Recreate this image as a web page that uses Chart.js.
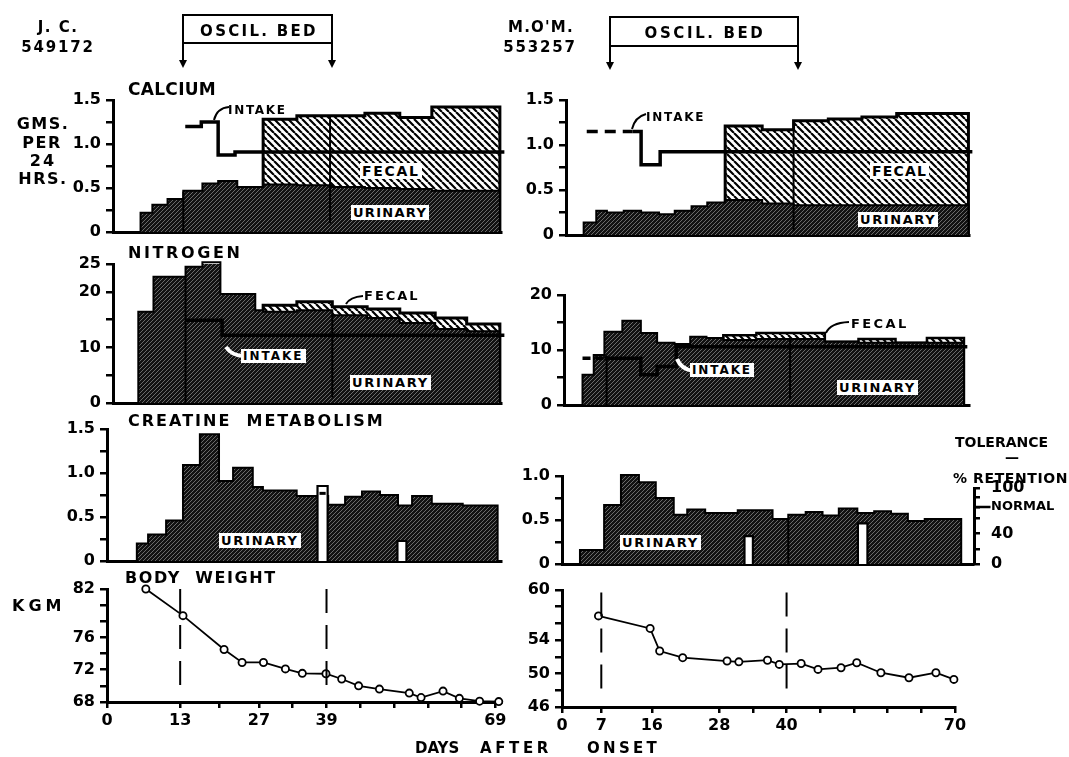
<!DOCTYPE html>
<html><head><meta charset="utf-8">
<script src="https://cdn.jsdelivr.net/npm/chart.js@4.4.1/dist/chart.umd.min.js"></script>
<style>
html,body{margin:0;padding:0;background:#fff;}
#fig{position:relative;width:1069px;height:757px;overflow:hidden;background:#fff;}
#fig canvas{position:absolute;}
.t{position:absolute;font-family:'DejaVu Sans',sans-serif;font-weight:bold;color:#000;line-height:1;white-space:pre;z-index:5;}
.w{background:#fff;padding:1px 2px;}
#ov{position:absolute;left:0;top:0;z-index:4;}
</style></head><body><div id="fig">
<svg id="ov" width="1069" height="757">
 <g stroke="#000" stroke-width="2" fill="none">
  <path d="M183,63 V15 H332 V63 M183,43 H332"/>
  <path d="M610,64 V17 H798 V64 M610,46 H798"/>
  <path d="M214,120 Q217,108 229,107"/>
  <path d="M632,129 Q635,117 646,114"/>
  <path d="M346,304 Q350,297 363,296"/>
  <path d="M826,333 Q830,323 849,322"/>
 </g>
 <g stroke="#fff" stroke-width="4" fill="none">
  <path d="M226,347 Q232,356 244,356"/>
  <path d="M677,359 Q681,369 693,371"/>
 </g>
 <g fill="#000">
  <path d="M179,60 L187,60 L183,68 Z"/><path d="M328,60 L336,60 L332,68 Z"/>
  <path d="M606,62 L614,62 L610,70 Z"/><path d="M794,62 L802,62 L798,70 Z"/>
 </g>
</svg>
</div>
<script>
// ================= DATA =================
// J.C. 549172 (left column)
const jcBedDays = [13, 39];
const jcCaUrinaryStart = [5.9, 8.0, 10.7, 13.5, 16.9, 19.7, 23.1, 27.7, 33.7, 40.0, 45.8, 52.0, 57.7];
const jcCaUrinary      = [0.22, 0.31, 0.375, 0.47, 0.55, 0.58, 0.51, 0.54, 0.53, 0.51, 0.50, 0.49, 0.47];
const jcCaFecalTopStart = [27.7, 33.7, 45.8, 52.0, 57.7];
const jcCaFecalTop      = [1.28, 1.32, 1.35, 1.30, 1.42];
const jcCaIntakeStart  = [13.85, 16.7, 19.7, 22.7];
const jcCaIntake       = [1.20, 1.25, 0.875, 0.91];
const jcCaEnd = 69.8;

const jcNStart       = [5.5, 8.2, 13.9, 16.9, 20.1, 26.3, 27.7, 33.7, 40.0, 46.2, 52.0, 58.3, 63.9];
const jcNUrinary     = [16.4, 22.7, 24.5, 25.3, 19.6, 16.7, 16.4, 16.7, 15.8, 15.3, 14.4, 13.3, 12.9];
const jcNFecalTopStart = [27.7, 33.7, 40.0, 46.2, 52.0, 58.3, 63.9];
const jcNFecalTop      = [17.6, 18.2, 17.3, 16.9, 16.2, 15.3, 14.2];
const jcNIntakeStart = [13.9, 20.4];
const jcNIntake      = [14.9, 12.2];
const jcNEnd = 69.8;

const jcCrStart = [5.3, 7.3, 10.5, 13.5, 16.5, 19.9, 22.4, 25.9, 27.7, 33.7, 39.3, 42.3, 45.3, 48.5, 51.7, 54.2, 57.7, 63.2];
const jcCr      = [0.20, 0.30, 0.46, 1.09, 1.44, 0.91, 1.06, 0.84, 0.80, 0.74, 0.64, 0.73, 0.79, 0.75, 0.63, 0.74, 0.65, 0.63];
const jcCrEnd = 69.4;
const jcTolStart = [37.4, 51.6];
const jcTolEnd   = [39.2, 53.2];
const jcTol      = [98.7, 26.3];
const jcTolMark  = 89;

const jcWtDay = [6.9, 13.5, 20.8, 24.0, 27.8, 31.7, 34.7, 38.9, 41.7, 44.7, 48.4, 53.7, 55.8, 59.7, 62.6, 66.2, 69.6];
const jcWt    = [82.0, 78.7, 74.5, 72.9, 72.9, 72.1, 71.55, 71.5, 70.85, 70.0, 69.6, 69.1, 68.55, 69.35, 68.45, 68.1, 68.05];

// M.O'M. 553257 (right column)
const moBedDays = [7, 40];
const moCaUrinaryStart = [3.75, 6.0, 7.9, 10.9, 14.0, 17.2, 20.0, 23.0, 25.8, 29.0, 35.6, 41.2];
const moCaUrinary      = [0.14, 0.27, 0.25, 0.27, 0.25, 0.23, 0.27, 0.32, 0.36, 0.39, 0.35, 0.33];
const moCaFecalTopStart = [29.0, 35.6, 41.2, 47.4, 53.4, 59.6];
const moCaFecalTop      = [1.21, 1.17, 1.27, 1.29, 1.31, 1.35];
const moCaIntakeEstDays = [4.3, 12.5];
const moCaIntakeEst     = 1.15;
const moCaIntakeStart = [12.5, 14.0, 17.4];
const moCaIntake      = [1.15, 0.78, 0.925];
const moCaEnd = 72.4;

const moNStart   = [3.6, 5.6, 7.5, 10.7, 14.0, 16.9, 20.0, 22.8, 25.7, 28.7, 34.6, 46.8, 52.8, 59.4, 65.0];
const moNUrinary = [5.5, 9.1, 13.3, 15.3, 13.1, 11.3, 11.1, 12.4, 12.2, 11.8, 12.0, 11.5, 11.3, 11.3, 11.3];
const moNFecalTopStart = [28.7, 34.6, 46.8, 52.8, 59.4, 65.0];
const moNFecalTop      = [12.7, 13.1, 11.5, 12.0, 11.3, 12.2];
const moNIntakeEstDays = [3.6, 7.5];
const moNIntakeEst     = 8.5;
const moNIntakeStart = [7.5, 14.0, 16.9, 20.3];
const moNIntake      = [8.5, 5.5, 7.0, 10.6];
const moNEnd = 71.6;

const moCrStart = [3.2, 7.5, 10.5, 13.7, 16.7, 19.9, 22.3, 25.5, 28.5, 31.3, 37.5, 40.3, 43.4, 46.4, 49.3, 52.6, 55.6, 58.6, 61.6, 64.6];
const moCr      = [0.16, 0.67, 1.01, 0.93, 0.75, 0.56, 0.62, 0.58, 0.58, 0.61, 0.51, 0.56, 0.59, 0.55, 0.63, 0.58, 0.60, 0.57, 0.49, 0.51];
const moCrEnd = 71.1;
const moTolStart = [32.5, 52.7];
const moTolEnd   = [34.0, 54.4];
const moTol      = [36.8, 53.5];

const moWtDay = [6.5, 15.7, 17.4, 21.5, 29.4, 31.5, 36.6, 38.7, 42.6, 45.6, 49.7, 52.5, 56.8, 61.8, 66.6, 69.8];
const moWt    = [56.9, 55.4, 52.7, 51.9, 51.5, 51.4, 51.6, 51.1, 51.2, 50.5, 50.7, 51.3, 50.1, 49.5, 50.1, 49.3];

// tick values / labels
const caTicks = [0, 0.25, 0.5, 0.75, 1, 1.25, 1.5];
const caTickLabels = ['0', '', '0.5', '', '1.0', '', '1.5'];
const jcNTicks = [0, 5, 10, 15, 20, 25];
const jcNTickLabels = ['0', '', '10', '', '20', '25'];
const moNTicks = [0, 5, 10, 15, 20];
const moNTickLabels = ['0', '', '10', '', '20'];
const moCrTicks = [0, 0.25, 0.5, 0.75, 1];
const moCrTickLabels = ['0', '', '0.5', '', '1.0'];
const jcWtTicks = [68, 70, 72, 74, 76, 78, 80, 82];
const jcWtTickLabels = ['68', '', '72', '', '76', '', '', '82'];
const moWtTicks = [46, 48, 50, 52, 54, 56, 58, 60];
const moWtTickLabels = ['46', '', '50', '', '54', '', '', '60'];
const jcDayTicks = [0, 13, 20, 27, 33, 39, 45, 51, 57, 63, 69];
const jcDayTickLabels = ['0', '13', '', '27', '', '39', '', '', '', '', '69'];
const moDayTicks = [0, 7, 16, 28, 34, 40, 46, 52, 58, 64, 70];
const moDayTickLabels = ['0', '7', '16', '28', '', '40', '', '', '', '', '70'];
const tolTicks = [0, 20, 40, 60, 75, 87.5, 100];
const tolTickLabels = ['0', '', '40', '', 'NORMAL', '', '100'];

// ================= DRAWING =================
const FONT = "'DejaVu Sans', sans-serif";
const fig = document.getElementById('fig');

function hatch(bg, fg, size, lw, dir) {
  const c = document.createElement('canvas'); c.width = c.height = size;
  const g = c.getContext('2d'); g.fillStyle = bg; g.fillRect(0, 0, size, size);
  g.strokeStyle = fg; g.lineWidth = lw; g.beginPath();
  for (let k = -1; k <= 1; k++) {
    if (dir > 0) { g.moveTo(k * size, size); g.lineTo(k * size + size, 0); }
    else { g.moveTo(k * size, 0); g.lineTo(k * size + size, size); }
  }
  g.stroke();
  return c.getContext('2d').createPattern(c, 'repeat');
}
const URINE = hatch('#121212', '#6a6a6a', 4, 1, 1);
const FECAL = hatch('#ffffff', '#000000', 7, 2.2, -1);

function stepPts(starts, vals, end, from) {
  const p = [{x: from, y: 0}];
  starts.forEach((s, i) => p.push({x: s, y: vals[i]}));
  p.push({x: end, y: vals[vals.length - 1]});
  p.push({x: end, y: 0});
  return p;
}
function linePts(starts, vals, end) {
  const p = starts.map((s, i) => ({x: s, y: vals[i]}));
  p.push({x: end, y: vals[vals.length - 1]});
  return p;
}
function areaDs(data, bg, bw, axis) {
  return {data, stepped: true, fill: 'origin', backgroundColor: bg, borderColor: '#000', borderWidth: bw,
          pointRadius: 0, yAxisID: axis || 'y', clip: false, borderJoinStyle: 'miter'};
}
function lineDs(data, bw, dash, stepped) {
  return {data, stepped: stepped !== false, fill: false, borderColor: '#000', borderWidth: bw, borderDash: dash || [],
          pointRadius: 0, clip: false, borderJoinStyle: 'miter'};
}
function tolBars(starts, ends, vals) {
  return starts.map((s, i) => areaDs(stepPts([s], [vals[i]], ends[i], s), '#fff', 2.2, 'tol'));
}
function weightDs(days, vals) {
  return {data: days.map((d, i) => ({x: d, y: vals[i]})), borderColor: '#000', borderWidth: 1.8, tension: 0,
          pointRadius: 3.6, pointBorderWidth: 1.8, pointBackgroundColor: '#fff', pointBorderColor: '#000',
          fill: false, clip: false};
}

const decor = {
  id: 'decor',
  afterDatasetsDraw(chart, args, opt) {
    const ctx = chart.ctx, xs = chart.scales.x, ys = chart.scales.y;
    (opt.lines || []).forEach(l => {
      ctx.save(); ctx.strokeStyle = '#000'; ctx.lineWidth = l.w || 2; ctx.setLineDash(l.dash || []);
      const px = xs.getPixelForValue(l.day);
      ctx.beginPath(); ctx.moveTo(px, ys.getPixelForValue(l.to)); ctx.lineTo(px, ys.getPixelForValue(l.from));
      ctx.stroke(); ctx.restore();
    });
  },
  afterDraw(chart, args, opt) {
    if (!opt.bracket) return;
    const ctx = chart.ctx, s = chart.scales.tol;
    const x = s.left + 1.5, y0 = s.getPixelForValue(0), y1 = s.getPixelForValue(100), yn = s.getPixelForValue(75);
    ctx.save(); ctx.strokeStyle = '#000'; ctx.lineWidth = 3;
    ctx.beginPath(); ctx.moveTo(x, y1 - 1); ctx.lineTo(x, y0 + 1); ctx.stroke();
    ctx.lineWidth = 2.5; ctx.beginPath(); ctx.moveTo(x, yn); ctx.lineTo(x + 16, yn); ctx.stroke();
    ctx.restore();
  }
};

function panel(o) {
  const YW = 70, PT = 30, PR = 26, RW = o.tolAxis ? 96 : 0, XH = o.xh || 30;
  const cw = YW + (o.right - o.left) + RW + PR;
  const ch = PT + (o.bottom - o.top) + XH;
  const cv = document.createElement('canvas');
  cv.width = cw; cv.height = ch;
  cv.style.left = (o.left - YW) + 'px'; cv.style.top = (o.top - PT) + 'px';
  cv.style.width = cw + 'px'; cv.style.height = ch + 'px';
  fig.insertBefore(cv, document.getElementById('ov'));
  const tf = {family: FONT, weight: 'bold', size: 16};
  const scales = {
    x: {type: 'linear', min: o.xmin, max: o.xmax, position: 'bottom',
      afterFit: s => { s.height = XH; },
      afterBuildTicks: s => { if (o.xticks) s.ticks = o.xticks.map(v => ({value: v})); },
      border: {display: true, color: '#000', width: 3},
      grid: {display: !!o.xticks, drawOnChartArea: false, drawTicks: true, tickLength: 6, color: '#000', lineWidth: 2.5},
      ticks: {display: !!o.xticks, autoSkip: false, maxRotation: 0, color: '#000', font: tf, padding: 3,
              callback: (v, i) => o.xlabels ? o.xlabels[i] : ''}},
    y: {type: 'linear', min: o.ymin, max: o.ymax, position: 'left',
      afterFit: s => { s.width = YW; },
      afterBuildTicks: s => { s.ticks = o.yticks.map(v => ({value: v})); },
      border: {display: true, color: '#000', width: 3},
      grid: {drawOnChartArea: false, drawTicks: true, tickLength: 7, color: '#000', lineWidth: 2.5},
      ticks: {autoSkip: false, color: '#000', font: tf, padding: 5, callback: (v, i) => o.ylabels[i]}}
  };
  if (o.tolMax) {
    scales.tol = {type: 'linear', min: 0, max: o.tolMax, position: 'right', display: !!o.tolAxis,
      afterFit: s => { s.width = RW; },
      afterBuildTicks: s => { s.ticks = tolTicks.map(v => ({value: v})); },
      border: {display: false},
      grid: {drawOnChartArea: false, drawTicks: true, tickLength: 7, color: '#000', lineWidth: 2.5},
      ticks: {autoSkip: false, color: '#000', padding: 11,
              font: c => ({family: FONT, weight: 'bold', size: tolTickLabels[c.index] === 'NORMAL' ? 13 : 16}),
              callback: (v, i) => tolTickLabels[i]}};
  }
  return new Chart(cv, {
    type: 'line',
    data: {datasets: o.datasets},
    options: {responsive: false, animation: false, devicePixelRatio: 1, events: [],
      layout: {padding: {left: 0, top: PT, right: PR, bottom: 0}},
      plugins: {legend: {display: false}, tooltip: {enabled: false}, decor: o.decor || {}},
      scales},
    plugins: [decor]
  });
}

const LX0 = 107, LK = 5.63, RX0 = 562.3, RK = 5.61;
const L = (mn, mx) => ({left: Math.round(LX0 + mn * LK), right: Math.round(LX0 + mx * LK), xmin: mn, xmax: mx});
const R = (mn, mx) => ({left: Math.round(RX0 + mn * RK), right: Math.round(RX0 + mx * RK), xmin: mn, xmax: mx});

// ---- J.C. calcium
panel(Object.assign(L(1, 70), {top: 100, bottom: 232, ymin: 0, ymax: 1.5, yticks: caTicks, ylabels: caTickLabels,
  decor: {lines: [{day: 13.5, from: 0, to: 0.46}, {day: 39.6, from: 0.1, to: 1.31}]},
  datasets: [
    lineDs(linePts(jcCaIntakeStart, jcCaIntake, 70.6), 3.5),
    areaDs(stepPts(jcCaUrinaryStart, jcCaUrinary, jcCaEnd, 1), URINE, 2),
    areaDs(stepPts(jcCaFecalTopStart, jcCaFecalTop, jcCaEnd, jcCaFecalTopStart[0]), FECAL, 3)
  ]}));
// ---- J.C. nitrogen
panel(Object.assign(L(1, 70), {top: 264, bottom: 403, ymin: 0, ymax: 25, yticks: jcNTicks, ylabels: jcNTickLabels,
  decor: {lines: [{day: 13.9, from: 0, to: 22.5}, {day: 40.0, from: 1, to: 15.8}]},
  datasets: [
    lineDs(linePts(jcNIntakeStart, jcNIntake, 70.6), 3.5),
    areaDs(stepPts(jcNStart, jcNUrinary, jcNEnd, 1), URINE, 2),
    areaDs(stepPts(jcNFecalTopStart, jcNFecalTop, jcNEnd, jcNFecalTopStart[0]), FECAL, 3)
  ]}));
// ---- J.C. creatine
panel(Object.assign(L(0, 70), {top: 429, bottom: 561, ymin: 0, ymax: 1.5, yticks: caTicks, ylabels: caTickLabels,
  tolMax: 132 / 0.76, tolAxis: false,
  datasets: [
    Object.assign(lineDs([{x: jcTolStart[0] + 0.35, y: jcTolMark}, {x: jcTolEnd[0] - 0.35, y: jcTolMark}], 3, [], false), {yAxisID: 'tol'}),
    ...tolBars(jcTolStart, jcTolEnd, jcTol),
    areaDs(stepPts(jcCrStart, jcCr, jcCrEnd, 0), URINE, 2)
  ]}));
// ---- J.C. body weight
panel(Object.assign(L(0, 70), {top: 589, bottom: 702, ymin: 68, ymax: 82, yticks: jcWtTicks, ylabels: jcWtTickLabels,
  xticks: jcDayTicks, xlabels: jcDayTickLabels, xh: 34,
  decor: {lines: jcBedDays.map(d => ({day: d, from: 69.1, to: 82, dash: [24, 12]}))},
  datasets: [weightDs(jcWtDay, jcWt)]}));

// ---- M.O'M. calcium
panel(Object.assign(R(0.6, 72.5), {top: 100, bottom: 235, ymin: 0, ymax: 1.5, yticks: caTicks, ylabels: caTickLabels,
  decor: {lines: [{day: 41.2, from: 0.05, to: 1.17}]},
  datasets: [
    lineDs(linePts(moCaIntakeStart, moCaIntake, 73.1), 3.5),
    lineDs(moCaIntakeEstDays.map(d => ({x: d, y: moCaIntakeEst})), 3.5, [11, 7], false),
    areaDs(stepPts(moCaUrinaryStart, moCaUrinary, moCaEnd, 0.6), URINE, 2),
    areaDs(stepPts(moCaFecalTopStart, moCaFecalTop, moCaEnd, moCaFecalTopStart[0]), FECAL, 3)
  ]}));
// ---- M.O'M. nitrogen
panel(Object.assign(R(0.3, 72.5), {top: 295, bottom: 405, ymin: 0, ymax: 20, yticks: moNTicks, ylabels: moNTickLabels,
  decor: {lines: [{day: 7.9, from: 0, to: 9}, {day: 40.6, from: 1, to: 12}]},
  datasets: [
    lineDs(linePts(moNIntakeStart, moNIntake, 72.2), 3.5),
    lineDs(moNIntakeEstDays.map(d => ({x: d, y: moNIntakeEst})), 3.5, [8, 5], false),
    areaDs(stepPts(moNStart, moNUrinary, moNEnd, 0.3), URINE, 2),
    areaDs(stepPts(moNFecalTopStart, moNFecalTop, moNEnd, moNFecalTopStart[0]), FECAL, 2.5)
  ]}));
// ---- M.O'M. creatine (with tolerance axis)
panel(Object.assign(R(0, 73.2), {top: 476, bottom: 564, ymin: 0, ymax: 1.0, yticks: moCrTicks, ylabels: moCrTickLabels,
  tolMax: 88 / 0.76, tolAxis: true,
  decor: {bracket: true, lines: [{day: 40.3, from: 0, to: 0.5}]},
  datasets: [
    ...tolBars(moTolStart, moTolEnd, moTol),
    areaDs(stepPts(moCrStart, moCr, moCrEnd, 0), URINE, 2)
  ]}));
// ---- M.O'M. body weight
panel(Object.assign(R(0, 70), {top: 590, bottom: 707, ymin: 46, ymax: 60, yticks: moWtTicks, ylabels: moWtTickLabels,
  xticks: moDayTicks, xlabels: moDayTickLabels, xh: 34,
  decor: {lines: moBedDays.map(d => ({day: d, from: 47.3, to: 59.7, dash: [24, 12]}))},
  datasets: [weightDs(moWtDay, moWt)]}));

// ================= TEXT =================
function txt(s, x, capTop, size, ls, o) {
  o = o || {};
  const d = document.createElement('div');
  d.className = 't' + (o.bg ? ' w' : '');
  d.textContent = s;
  d.style.fontSize = size + 'px';
  d.style.letterSpacing = ls + 'px';
  let top = capTop - 0.117 * size, left = x;
  if (o.bg) { top -= 1; left -= 2; }
  if (o.center) { d.style.left = (x - 100) + 'px'; d.style.width = '200px'; d.style.textAlign = 'center'; }
  else d.style.left = left + 'px';
  d.style.top = top + 'px';
  fig.appendChild(d);
}
txt('J. C.', 58, 22, 15, 1.5, {center: true});
txt('549172', 58, 42, 15, 1.8, {center: true});
txt("M.O'M.", 541, 22, 15, 1.2, {center: true});
txt('553257', 540, 42, 15, 1.8, {center: true});
txt('OSCIL. BED', 259, 26, 15, 2.3, {center: true});
txt('OSCIL. BED', 705, 28, 15, 2.6, {center: true});
txt('CALCIUM', 128, 83, 17, 0.3);
txt('NITROGEN', 128, 247, 16, 2.6);
txt('CREATINE  METABOLISM', 128, 415, 16, 2.0);
txt('BODY  WEIGHT', 125, 572, 16, 1.6);
txt('GMS.', 43, 118, 16, 1.5, {center: true});
txt('PER', 42, 137, 16, 1.5, {center: true});
txt('24', 43, 155, 16, 2, {center: true});
txt('HRS.', 43, 173, 16, 1.5, {center: true});
txt('KGM', 12, 600, 16, 4);
txt('DAYS', 415, 743, 15, 0);
txt('AFTER', 480, 743, 15, 3.6);
txt('ONSET', 587, 743, 15, 3.3);
txt('TOLERANCE', 955, 437, 14, 0);
txt('—', 1005, 452, 14, 0);
txt('% RETENTION', 953, 473, 14, 0.6);
// in-panel labels
txt('INTAKE', 228, 105, 12, 1.7);
txt('FECAL', 362, 166, 14, 1.7, {bg: true});
txt('URINARY', 353, 208, 13, 1.3, {bg: true});
txt('INTAKE', 646, 112, 12, 1.8);
txt('FECAL', 872, 166, 14, 1.2, {bg: true});
txt('URINARY', 860, 215, 13, 1.6, {bg: true});
txt('FECAL', 364, 291, 13, 2.0);
txt('INTAKE', 243, 351, 12, 2.0, {bg: true});
txt('URINARY', 352, 378, 13, 1.7, {bg: true});
txt('FECAL', 851, 319, 13, 2.4);
txt('INTAKE', 692, 365, 12, 1.9, {bg: true});
txt('URINARY', 839, 383, 13, 1.7, {bg: true});
txt('URINARY', 221, 536, 13, 1.8, {bg: true});
txt('URINARY', 622, 538, 13, 1.7, {bg: true});
</script></body></html>
